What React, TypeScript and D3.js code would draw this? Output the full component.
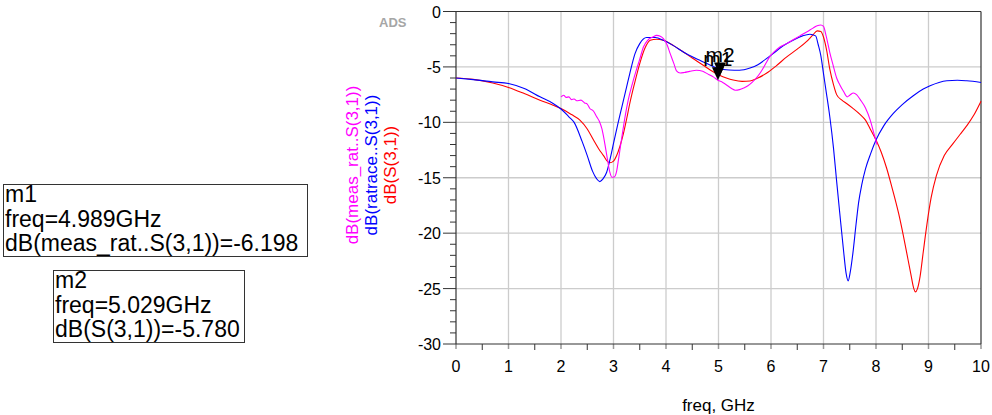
import React from "react";
import * as d3 from "d3";

// ---------- data ----------
const xTicks = [0, 1, 2, 3, 4, 5, 6, 7, 8, 9, 10];
const yTicks = [0, -5, -10, -15, -20, -25, -30];

const blueFreq = [0, 0.33, 0.7, 1.0, 1.3, 1.6, 1.85, 2.0, 2.15, 2.25, 2.4, 2.5, 2.6, 2.68, 2.74, 2.8, 2.87, 2.95, 3.0, 3.08, 3.16, 3.25, 3.31, 3.41, 3.5, 3.63, 3.8, 3.95, 4.15, 4.33, 4.55, 4.78, 5.0, 5.2, 5.4, 5.6, 5.75, 5.9, 6.04, 6.2, 6.42, 6.6, 6.74, 6.85, 6.9, 6.95, 7.0, 7.05, 7.12, 7.19, 7.25, 7.31, 7.38, 7.43, 7.47, 7.51, 7.56, 7.62, 7.67, 7.73, 7.8, 7.9, 8.0, 8.15, 8.33, 8.5, 8.71, 8.9, 9.03, 9.2, 9.35, 9.55, 9.73, 10];
const blueDb = [-6.0, -6.15, -6.35, -6.5, -6.95, -7.7, -8.3, -8.8, -9.5, -10.0, -11.7, -13.0, -14.4, -15.1, -15.35, -15.1, -14.5, -13.0, -11.9, -10.2, -8.6, -6.8, -5.6, -3.8, -2.9, -2.35, -2.35, -2.6, -3.1, -3.65, -4.2, -4.7, -5.15, -5.28, -5.3, -5.1, -4.8, -4.3, -3.8, -3.2, -2.6, -2.2, -2.05, -2.2, -3.0, -4.0, -5.6, -7.2, -9.5, -12.3, -15.3, -18.2, -21.5, -23.6, -24.3, -23.5, -21.8, -19.2, -17.2, -15.6, -14.2, -12.8, -11.6, -10.3, -9.2, -8.4, -7.6, -7.0, -6.7, -6.4, -6.25, -6.2, -6.25, -6.4];

const redFreq = [0, 0.33, 0.7, 1.0, 1.3, 1.6, 1.85, 2.0, 2.2, 2.36, 2.5, 2.62, 2.72, 2.81, 2.88, 2.93, 3.0, 3.06, 3.12, 3.19, 3.25, 3.31, 3.4, 3.5, 3.6, 3.7, 3.82, 3.95, 4.15, 4.33, 4.5, 4.71, 4.85, 5.03, 5.15, 5.28, 5.45, 5.6, 5.75, 5.92, 6.1, 6.3, 6.5, 6.68, 6.8, 6.88, 6.95, 7.0, 7.06, 7.12, 7.19, 7.25, 7.35, 7.44, 7.55, 7.7, 7.8, 7.9, 8.0, 8.1, 8.2, 8.3, 8.43, 8.52, 8.59, 8.66, 8.72, 8.75, 8.79, 8.84, 8.9, 8.97, 9.05, 9.15, 9.3, 9.47, 9.6, 9.73, 9.87, 10];
const redDb = [-6.0, -6.12, -6.45, -6.85, -7.4, -8.0, -8.45, -8.75, -9.3, -9.8, -10.6, -11.6, -12.4, -13.0, -13.5, -13.65, -13.5, -13.0, -12.2, -11.0, -9.7, -8.3, -6.5, -4.7, -3.3, -2.6, -2.5, -2.6, -3.1, -3.65, -4.2, -4.85, -5.3, -5.78, -6.0, -6.18, -6.3, -6.27, -6.0, -5.55, -4.9, -4.1, -3.4, -2.7, -2.1, -1.75, -1.8, -2.3, -3.5, -5.2, -6.6, -7.5, -8.0, -8.3, -8.7, -9.3, -9.8, -10.7, -11.6, -12.7, -14.1, -15.8, -18.2, -20.2, -21.9, -23.6, -25.0, -25.3, -25.0, -23.9, -21.7, -19.2, -16.8, -14.8, -13.0, -11.9, -11.1, -10.3, -9.3, -8.1];

const measFreq = [2.0, 2.05, 2.1, 2.15, 2.2, 2.25, 2.3, 2.38, 2.45, 2.5, 2.55, 2.62, 2.68, 2.73, 2.78, 2.83, 2.88, 2.93, 2.97, 3.02, 3.06, 3.1, 3.16, 3.22, 3.28, 3.36, 3.44, 3.5, 3.57, 3.65, 3.75, 3.82, 3.9, 3.95, 4.02, 4.08, 4.15, 4.2, 4.27, 4.35, 4.45, 4.58, 4.7, 4.8, 4.9, 4.99, 5.08, 5.16, 5.25, 5.32, 5.4, 5.48, 5.56, 5.65, 5.72, 5.8, 5.9, 5.98, 6.08, 6.17, 6.3, 6.42, 6.55, 6.68, 6.8, 6.88, 6.95, 7.0, 7.05, 7.12, 7.18, 7.25, 7.31, 7.38, 7.45, 7.5, 7.57, 7.63, 7.7, 7.8, 7.89, 7.96, 8.02];
const measDb = [-7.7, -7.55, -7.75, -7.7, -7.95, -7.9, -8.05, -8.0, -8.25, -8.35, -8.75, -9.0, -9.5, -9.9, -10.6, -11.8, -13.2, -14.5, -14.95, -14.9, -14.4, -13.2, -11.3, -9.5, -8.0, -6.5, -5.2, -4.3, -3.2, -2.6, -2.3, -2.15, -2.25, -2.45, -3.0, -3.8, -4.7, -5.35, -5.55, -5.5, -5.4, -5.3, -5.4, -5.65, -5.9, -6.2, -6.4, -6.65, -6.95, -7.1, -7.05, -6.9, -6.7, -6.35, -6.0, -5.5, -4.7, -4.05, -3.55, -3.2, -2.9, -2.55, -2.2, -1.85, -1.5, -1.28, -1.22, -1.35, -2.2, -3.7, -4.8, -6.0, -6.6, -7.2, -7.7, -7.55, -7.35, -7.5, -7.95, -8.7, -9.8, -11.0, -12.0];

const markerNames = ["m1", "m2"];
const markerFreq = [4.989, 5.029];
const markerDb = [-6.198, -5.78];
const markerExpr = ["dB(meas_rat..S(3,1))", "dB(S(3,1))"];

const legendLabels = ["dB(meas_rat..S(3,1))", "dB(ratrace..S(3,1))", "dB(S(3,1))"];
const legendColors = ["#ff00ff", "#0000ff", "#ff0000"];

const FONT = "'Liberation Sans', Arial, sans-serif";

export default function App() {
  const W = 992, H = 415;
  const x = d3.scaleLinear().domain([0, 10]).range([456, 981]);
  const y = d3.scaleLinear().domain([-30, 0]).range([344, 11.5]);

  const mk = (fs: number[], ds: number[]) =>
    d3.line<number>().x((_, i) => x(fs[i])).y((_, i) => y(ds[i])).curve(d3.curveMonotoneX)(fs) || "";

  const series = [
    { d: mk(redFreq, redDb), c: "#ff0000" },
    { d: mk(blueFreq, blueDb), c: "#0000ff" },
    { d: mk(measFreq, measDb), c: "#ff00ff" },
  ];

  const minorX = d3.range(0.5, 10, 1);
  const minorY = d3.range(-29, 0, 1).filter((v) => v % 5 !== 0);
  const axisColor = "#333333";
  const gridColor = "#cccccc";

  return (
    <svg width={W} height={H} style={{ position: "absolute", left: 0, top: 0, background: "#fff" }}>
      {/* grid */}
      {xTicks.slice(1, -1).map((t) => (
        <line key={"gx" + t} x1={x(t)} x2={x(t)} y1={y(0)} y2={y(-30)} stroke={gridColor} strokeWidth={1.3} />
      ))}
      {yTicks.slice(1, -1).map((t) => (
        <line key={"gy" + t} x1={x(0)} x2={x(10)} y1={y(t)} y2={y(t)} stroke={gridColor} strokeWidth={1.3} />
      ))}
      {/* major x ticks (gray) */}
      {xTicks.map((t) => (
        <line key={"mx" + t} x1={x(t)} x2={x(t)} y1={y(-30)} y2={y(-30) + 5} stroke="#999" strokeWidth={1.5} />
      ))}
      {minorX.map((t) => (
        <line key={"nx" + t} x1={x(t)} x2={x(t)} y1={y(-30)} y2={y(-30) + 6} stroke={axisColor} strokeWidth={1} />
      ))}
      {yTicks.map((t) => (
        <line key={"my" + t} x1={x(0) - 13} x2={x(0)} y1={y(t)} y2={y(t)} stroke={axisColor} strokeWidth={1} />
      ))}
      {minorY.map((t) => (
        <line key={"ny" + t} x1={x(0) - 6} x2={x(0)} y1={y(t)} y2={y(t)} stroke={axisColor} strokeWidth={1} />
      ))}
      {/* frame */}
      <line x1={x(0)} x2={x(0)} y1={y(0)} y2={y(-30)} stroke={axisColor} strokeWidth={1.2} />
      <line x1={x(0)} x2={x(10)} y1={y(-30)} y2={y(-30)} stroke={axisColor} strokeWidth={1.2} />
      <line x1={x(0)} x2={x(10)} y1={y(0)} y2={y(0)} stroke={axisColor} strokeWidth={1.2} />
      <line x1={x(10)} x2={x(10)} y1={y(0)} y2={y(-30)} stroke={axisColor} strokeWidth={1.2} />

      {/* tick labels */}
      {yTicks.map((t) => (
        <text key={"ly" + t} x={x(0) - 15} y={y(t) + 6} textAnchor="end" fontFamily={FONT} fontSize={16} fill="#000">
          {t}
        </text>
      ))}
      {xTicks.map((t) => (
        <text key={"lx" + t} x={x(t)} y={372} textAnchor="middle" fontFamily={FONT} fontSize={16} fill="#000">
          {t}
        </text>
      ))}
      <text x={x(5)} y={411} textAnchor="middle" fontFamily={FONT} fontSize={17} fill="#000">
        freq, GHz
      </text>

      {/* series */}
      {series.map((s, i) => (
        <path key={"s" + i} d={s.d} fill="none" stroke={s.c} strokeWidth={1.1} />
      ))}

      {/* markers */}
      {markerNames.map((m, i) => {
        const px = x(markerFreq[i]);
        const py = y(markerDb[i]);
        return (
          <g key={"mk" + m}>
            <path d={`M${px - 6},${py - 13} L${px + 6},${py - 13} L${px},${py} Z`} fill="#000" />
            <text x={px} y={py - 14} textAnchor="middle" fontFamily={FONT} fontSize={21} fill="#000">
              {m}
            </text>
          </g>
        );
      })}

      {/* ADS watermark */}
      <text x={379} y={27} fontFamily={FONT} fontSize={13} fontWeight="bold" fill="#a6a6a6">
        ADS
      </text>

      {/* y-axis legend labels */}
      {legendLabels.map((l, i) => (
        <text
          key={"lg" + i}
          transform={`translate(${[358, 377, 396][i]},165) rotate(-90)`}
          textAnchor="middle"
          fontFamily={FONT}
          fontSize={17}
          fill={legendColors[i]}
        >
          {l}
        </text>
      ))}

      {/* marker readout boxes */}
      {markerNames.map((m, i) => {
        const bx = [3, 53][i];
        const by = [184, 270][i];
        const bw = [304, 191][i];
        return (
          <g key={"box" + m}>
            <rect x={bx + 0.5} y={by + 0.5} width={bw} height={72} fill="#fff" stroke="#333" strokeWidth={1} />
            <text x={bx + 2} y={by + 18} fontFamily={FONT} fontSize={23} fill="#000">{m}</text>
            <text x={bx + 2} y={by + 43} fontFamily={FONT} fontSize={23} fill="#000">
              {`freq=${markerFreq[i].toFixed(3)}GHz`}
            </text>
            <text x={bx + 2} y={by + 67} fontFamily={FONT} fontSize={23} fill="#000">
              {`${markerExpr[i]}=${markerDb[i].toFixed(3)}`}
            </text>
          </g>
        );
      })}
    </svg>
  );
}
